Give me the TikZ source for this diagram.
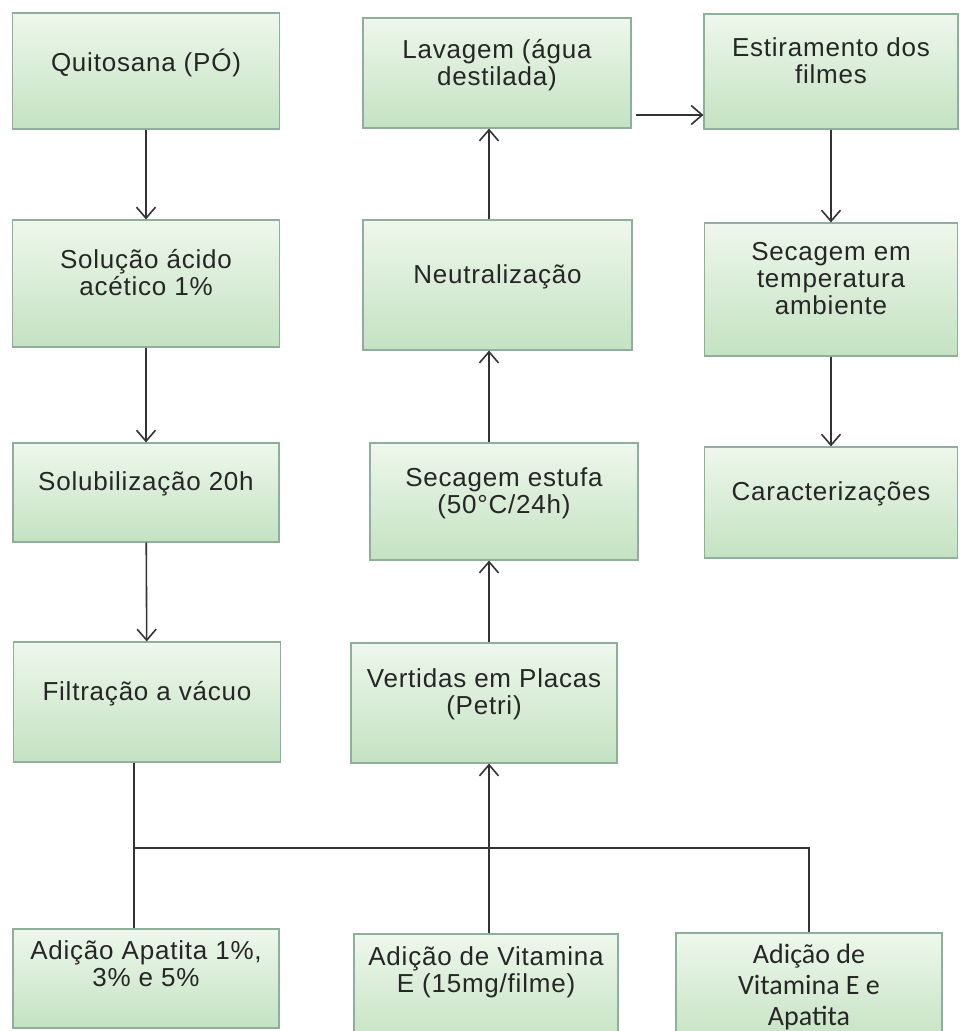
\documentclass[tikz,border=0pt]{standalone}
\usepackage{fontspec}
\setmainfont{Liberation Sans}[LetterSpace=3]
\newfontfamily\carlitofont{Carlito}
\usetikzlibrary{positioning,arrows.meta}
\definecolor{boxtop}{HTML}{EEF7EC}
\definecolor{boxbottom}{HTML}{C4E2C2}
\definecolor{boxline}{HTML}{8FAE9B}
\definecolor{wire}{HTML}{333333}

\begin{document}
\begin{tikzpicture}[
  x=1pt, y=-1pt,
  step-box/.style={rectangle, draw=boxline, line width=1.2pt, top color=boxtop, bottom color=boxbottom,
    inner sep=0pt, align=center, font=\fontsize{26}{27}\selectfont, text=black!85, text depth=22pt},
  flow/.style={draw=wire, line width=1.6pt, -{Straight Barb[length=11pt,width=19pt]}},
  wire-line/.style={draw=wire, line width=1.6pt}
]
  \clip (0,0) rectangle (959,1031);

  \node (quitosana) at (146,71) [step-box, minimum width=267pt, minimum height=116pt] {Quitosana (PÓ)};
  \node (solucao) at (146,283.5) [step-box, minimum width=267pt, minimum height=127pt] {Solução ácido\\acético 1\%};
  \node (solubilizacao) at (146,492.5) [step-box, minimum width=266pt, minimum height=99pt] {Solubilização 20h};
  \node (filtracao) at (147,702) [step-box, minimum width=267pt, minimum height=120pt] {Filtração a vácuo};

  \node (lavagem) at (497,73) [step-box, minimum width=268pt, minimum height=110pt] {Lavagem (água\\destilada)};
  \node (neutralizacao) at (497.5,285) [step-box, minimum width=269pt, minimum height=130pt] {Neutralização};
  \node (estufa) at (504,501.5) [step-box, minimum width=268pt, minimum height=117pt] {Secagem estufa\\(50°C/24h)};
  \node (vertidas) at (484,703) [step-box, minimum width=266pt, minimum height=120pt] {Vertidas em Placas\\(Petri)};

  \node (estiramento) at (831,71.5) [step-box, minimum width=254pt, minimum height=115pt] {Estiramento dos\\filmes};
  \node (secagem) at (831,289.5) [step-box, minimum width=253pt, minimum height=133pt] {Secagem em\\temperatura\\ambiente};
  \node (caracterizacoes) at (831,502.5) [step-box, minimum width=253pt, minimum height=111pt] {Caracterizações};

  \node (apatita) at (146,978.5) [step-box, minimum width=266pt, minimum height=99pt, text depth=29pt] {Adição Apatita 1\%,\\3\% e 5\%};
  \node (vitamina) at (486,990) [step-box, minimum width=264pt, minimum height=112pt, text depth=41pt] {Adição de Vitamina\\E (15mg/filme)};
  \node (vitapat) at (809,989) [step-box, minimum width=266pt, minimum height=112pt, text depth=8pt,
    font=\carlitofont\fontsize{28}{31}\selectfont] {Adição de\\Vitamina E e\\Apatita};

  \coordinate (spine) at (489,0);
  \coordinate (bus-left) at (134,848);
  \coordinate (bus-right) at (vitapat.north |- bus-left);

  \draw[flow] (quitosana) -- (solucao);
  \draw[flow] (solucao) -- (solubilizacao);
  \draw[flow] (solubilizacao) -- (filtracao);

  \draw[wire-line] (filtracao.south -| bus-left) -- (apatita.north -| bus-left);
  \draw[wire-line] (bus-left) -- (bus-right) -- (vitapat.north);

  \draw[flow] (vitamina.north -| spine) -- (vertidas.south -| spine);
  \draw[flow] (vertidas.north -| spine) -- (estufa.south -| spine);
  \draw[flow] (estufa.north -| spine) -- (neutralizacao.south -| spine);
  \draw[flow] (neutralizacao.north -| spine) -- (lavagem.south -| spine);

  \draw[flow] ([xshift=4pt, yshift=-42pt]lavagem.east) -- ([yshift=-42pt]lavagem.east -| estiramento.west);
  \draw[flow] (estiramento) -- (secagem);
  \draw[flow] (secagem) -- (caracterizacoes);
\end{tikzpicture}
\end{document}
